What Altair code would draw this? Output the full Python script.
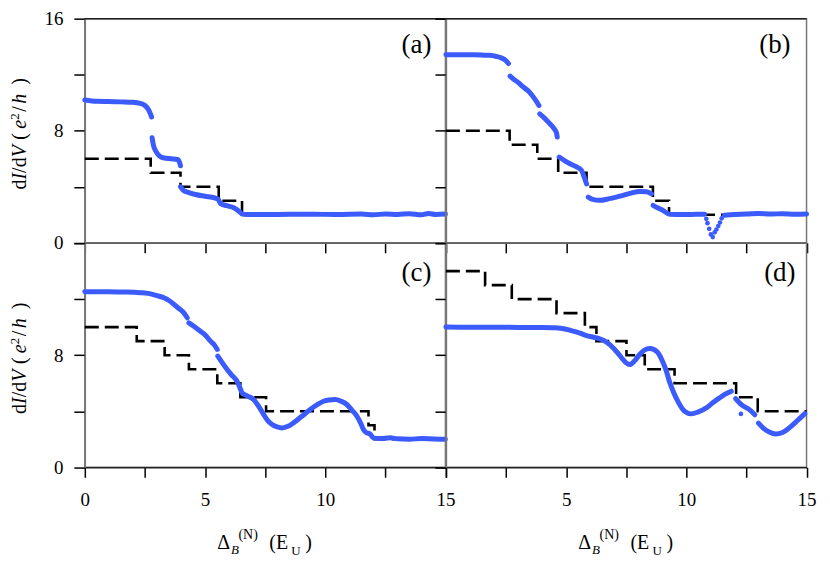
import altair as alt
import pandas as pd

SERIF = "Liberation Serif"
BLUE = "#3b5bfd"

# ---------------- panel (a) ----------------
A_X = [0, 0.5, 1.0, 1.5, 2.0, 2.3, 2.5, 2.65, 2.78,
       2.8, 2.85, 2.95, 3.1, 3.3, 3.6, 3.85, 3.95, 3.98,
       3.98, 4.1, 4.3, 4.6, 5.0, 5.4, 5.55, 5.65, 5.9, 6.2, 6.45, 6.55, 6.7, 7.5, 8.5, 9.5,
       10.5, 11.5, 12.0, 12.5, 13.0, 13.5, 14.0, 14.3, 14.6, 15.0]
A_V = [10.2, 10.1, 10.08, 10.06, 10.03, 9.95, 9.8, 9.5, 8.98,
       7.5, 7.0, 6.55, 6.2, 6.05, 6.0, 5.95, 5.7, 5.5,
       4.0, 3.75, 3.6, 3.45, 3.32, 3.2, 3.1, 2.8, 2.65, 2.5, 2.2, 2.05, 2.02, 2.02, 2.03, 2.04,
       2.02, 2.05, 2.0, 2.06, 2.02, 2.08, 2.0, 2.1, 2.02, 2.05]
A_SEG = [1] * 9 + [2] * 9 + [3] * 26
A_STEP_X = [0, 2.74, 3.98, 5.57, 6.54, 15]
A_STEP_V = [6, 5, 4, 3, 2, 2]
A_DOT_X = []
A_DOT_V = []

# ---------------- panel (b) ----------------
B_X = [0, 0.5, 1.0, 1.5, 1.84, 2.1, 2.3, 2.5, 2.6,
       2.67, 2.8, 3.0, 3.22, 3.45, 3.64, 3.8, 3.87,
       3.9, 4.1, 4.32, 4.5, 4.6, 4.63,
       4.71, 4.9, 5.16, 5.4, 5.64, 5.75, 5.85,
       5.92, 6.1, 6.4, 6.8, 7.37, 7.7, 8.07, 8.35, 8.55,
       8.62, 8.8, 9.03, 9.31, 9.6, 10.0, 10.4, 10.76,
       11.58, 12.0, 12.5, 13.0, 13.5, 14.0, 14.5, 15.0]
B_V = [13.43, 13.43, 13.42, 13.4, 13.38, 13.3, 13.2, 13.0, 12.8,
       11.9, 11.7, 11.45, 11.12, 10.8, 10.4, 10.0, 9.8,
       9.2, 8.9, 8.5, 8.15, 7.85, 7.55,
       6.12, 5.9, 5.64, 5.45, 5.17, 4.7, 4.2,
       3.26, 3.1, 3.03, 3.15, 3.39, 3.55, 3.67, 3.65, 3.5,
       2.67, 2.5, 2.31, 2.03, 2.02, 2.02, 2.03, 2.03,
       1.96, 2.02, 2.05, 2.1, 2.05, 2.08, 2.03, 2.05]
B_SEG = [1] * 9 + [2] * 8 + [3] * 6 + [4] * 7 + [5] * 9 + [6] * 8 + [7] * 8
B_STEP_X = [0, 2.65, 3.8, 4.67, 5.85, 8.61, 9.28, 15]
B_STEP_V = [8, 7, 6, 5, 4, 3, 2, 2]
B_DOT_X = [10.83, 10.88, 10.95, 11.02, 11.1, 11.18, 11.25, 11.33, 11.4, 11.47]
B_DOT_V = [1.71, 1.4, 1.0, 0.6, 0.41, 0.75, 0.95, 1.2, 1.45, 1.75]

# ---------------- panel (c) ----------------
C_X = [0, 0.5, 1.0, 1.5, 2.05, 2.4, 2.74, 3.0, 3.29, 3.5, 3.71, 3.9, 4.12, 4.26,
       4.33, 4.55, 4.81, 5.0, 5.23, 5.4, 5.51,
       5.53, 5.7, 5.92, 6.1, 6.33, 6.45, 6.54, 6.75, 7.02, 7.25, 7.44, 7.6, 7.79, 8.0,
       8.2, 8.45, 8.68, 9.0, 9.38, 9.65, 9.93, 10.15, 10.41, 10.65, 10.9, 11.1, 11.32,
       11.5, 11.59, 11.73, 11.85, 12.0, 12.3, 12.7, 13.0, 13.5, 14.0, 14.5, 15.0]
C_V = [12.52, 12.52, 12.52, 12.51, 12.5, 12.45, 12.38, 12.25, 12.1, 11.9, 11.62, 11.35, 11.02, 10.67,
       10.31, 10.05, 9.71, 9.45, 9.0, 8.7, 8.41,
       7.93, 7.5, 6.98, 6.6, 6.14, 5.7, 5.31, 5.1, 4.83, 4.3, 3.76, 3.35, 3.05, 2.88,
       2.81, 2.92, 3.17, 3.6, 4.12, 4.45, 4.71, 4.8, 4.83, 4.72, 4.48, 4.1, 3.64,
       3.05, 2.69, 2.45, 2.4, 2.1, 2.05, 2.1, 2.03, 2.0, 2.05, 2.02, 2.0]
C_SEG = [1] * 14 + [2] * 7 + [3] * 39
C_STEP_X = [0, 2.16, 3.32, 4.33, 5.51, 6.47, 7.54, 11.8, 12.05, 15]
C_STEP_V = [10, 9, 8, 7, 6, 5, 4, 3, 2, 2]
C_DOT_X = []
C_DOT_V = []

# ---------------- panel (d) ----------------
D_X = [0, 1, 2, 3, 4, 4.54, 5.0, 5.3, 5.6, 5.85, 6.1, 6.4, 6.7, 6.96, 7.2, 7.37, 7.5, 7.64,
       7.85, 8.06, 8.25, 8.47, 8.65, 8.82, 9.0, 9.17, 9.3, 9.45, 9.65, 9.86, 10.0, 10.21,
       10.5, 10.83, 11.1, 11.38, 11.6, 11.87,
       12.05, 12.3, 12.6, 12.85,
       13.0, 13.2, 13.45, 13.72, 14.0, 14.28, 14.6, 14.93]
D_V = [10.02, 10.0, 10.0, 9.98, 9.97, 9.95, 9.85, 9.71, 9.55, 9.4, 9.3, 9.17, 8.9, 8.52, 8.05, 7.69, 7.45, 7.33,
       7.6, 8.05, 8.35, 8.48, 8.4, 8.17, 7.6, 6.86, 6.1, 5.43, 4.7, 4.12, 3.92, 3.81,
       3.95, 4.24, 4.6, 4.95, 5.2, 5.43,
       4.9, 4.45, 4.15, 3.75,
       3.15, 2.8, 2.52, 2.38, 2.48, 2.81, 3.3, 3.83]
D_SEG = [1] * 38 + [2] * 4 + [3] * 8
D_STEP_X = [0, 1.63, 2.74, 4.6, 5.78, 6.26, 7.51, 8.27, 9.51, 12.07, 12.97, 15]
D_STEP_V = [14, 13, 12, 11, 10, 9, 8, 7, 6, 5, 4, 4]
D_DOT_X = [12.27]
D_DOT_V = [3.81]

X_TICKS = [0, 2.5, 5, 7.5, 10, 12.5, 15]
Y_TICKS = [0, 4, 8, 12, 16]

W = 361.5
H = 224.7


def piece(text, x, y, size, italic=False, angle=0, align="left"):
    props = dict(text=text, font=SERIF, fontSize=size, align=align,
                 baseline="alphabetic", color="black")
    if italic:
        props["fontStyle"] = "italic"
    if angle:
        props["angle"] = angle
    return alt.Chart(alt.Data(values=[{}])).mark_text(**props).encode(
        x=alt.value(x), y=alt.value(y))


def y_title_pieces():
    bx = -59
    return [
        piece("d", bx, 171.3, 20, False, 270),
        piece("I", bx, 161.3, 20, True, 270),
        piece("/d", bx, 154.6, 20, False, 270),
        piece("V", bx, 139.0, 20, True, 270),
        piece("(", bx, 121.3, 20, False, 270),
        piece("e", bx, 110.3, 20, True, 270),
        piece("2", bx - 7, 101.3, 13, False, 270),
        piece("/", bx, 93.3, 20, False, 270),
        piece("h", bx, 85.3, 20, True, 270),
        piece(")", bx, 66.3, 20, False, 270),
    ]


def x_title_pieces():
    return [
        piece("\u0394", 132.7, 307, 20),
        piece("B", 146.5, 311.5, 13, True),
        piece("(N)", 154, 296.5, 14),
        piece("(E", 185, 307, 20),
        piece("U", 207, 313, 13),
        piece(")", 221, 307, 20),
    ]


def make_panel(bx, bv, bseg, sx, sv, dx, dv, label, lx, ly, xlab_expr, ylab_expr,
               xtitle, ytitle, top_edge):
    xaxis = alt.Axis(values=X_TICKS, title=None, grid=False,
                     labels=xlab_expr is not None,
                     labelExpr=xlab_expr if xlab_expr else "datum.label",
                     tickSize=10, tickColor="black", tickWidth=1.5,
                     domainColor="#222222", domainWidth=1.5,
                     labelFont=SERIF, labelFontSize=19, labelColor="black",
                     labelPadding=13, labelFlush=False, labelOverlap=False)
    yaxis = alt.Axis(values=Y_TICKS, title=None, grid=False,
                     labels=ylab_expr is not None,
                     labelExpr=ylab_expr if ylab_expr else "datum.label",
                     tickSize=11, tickColor="black", tickWidth=1.5,
                     domainColor="#777777", domainWidth=1.5,
                     labelFont=SERIF, labelFontSize=19, labelColor="black",
                     labelPadding=11, labelFlush=False, labelOverlap=False)
    X = alt.X("x:Q", scale=alt.Scale(domain=[0, 15], nice=False, zero=False), axis=xaxis)
    Y = alt.Y("v:Q", scale=alt.Scale(domain=[0, 16], nice=False), axis=yaxis)

    step_df = pd.DataFrame({"x": sx, "v": sv})
    blue_df = pd.DataFrame({"x": bx, "v": bv, "seg": bseg})

    layers = []
    layers.append(alt.Chart(step_df).mark_line(
        interpolate="step-after", color="black", strokeWidth=2.6,
        strokeDash=[14, 6]).encode(x=X, y=Y))
    layers.append(alt.Chart(blue_df).mark_line(
        interpolate="monotone", color=BLUE, strokeWidth=5, strokeCap="round",
        strokeJoin="round").encode(x=X, y=Y, detail="seg:N"))
    if dx:
        dot_df = pd.DataFrame({"x": dx, "v": dv})
        layers.append(alt.Chart(dot_df).mark_circle(
            color=BLUE, opacity=1, size=22).encode(x=X, y=Y))
    if top_edge:
        layers.append(alt.Chart(alt.Data(values=[{}])).mark_rule(
            color="#222222", strokeWidth=1.5).encode(
            x=alt.value(0), x2=alt.value(W), y=alt.value(0)))
    layers.append(piece(label, lx, ly, 27, align="right"))
    if ytitle:
        layers += y_title_pieces()
    if xtitle:
        layers += x_title_pieces()
    return alt.layer(*layers).properties(width=W, height=H)


XL_LEFT = "datum.value % 5 == 0 ? datum.label : ''"
XL_RIGHT = "datum.value % 5 == 0 && datum.value > 0 ? datum.label : ''"
YL_TOP = "datum.value % 8 == 0 ? datum.label : ''"
YL_BOT = "datum.value % 8 == 0 && datum.value < 16 ? datum.label : ''"

pa = make_panel(A_X, A_V, A_SEG, A_STEP_X, A_STEP_V, A_DOT_X, A_DOT_V, "(a)", 347.5, 34,
                None, YL_TOP, False, True, True)
pb = make_panel(B_X, B_V, B_SEG, B_STEP_X, B_STEP_V, B_DOT_X, B_DOT_V, "(b)", 345.5, 34,
                None, None, False, False, True)
pc = make_panel(C_X, C_V, C_SEG, C_STEP_X, C_STEP_V, C_DOT_X, C_DOT_V, "(c)", 347.5, 38,
                XL_LEFT, YL_BOT, True, True, False)
pd_ = make_panel(D_X, D_V, D_SEG, D_STEP_X, D_STEP_V, D_DOT_X, D_DOT_V, "(d)", 350.5, 38,
                 XL_RIGHT, None, True, False, False)

chart = alt.concat(pa, pb, pc, pd_, columns=2, spacing=0, bounds="flush").properties(
    padding={"left": 0, "top": 0, "right": 5, "bottom": 5},
    background="white",
).configure_view(stroke="#777777", strokeWidth=1.5)

chart.save("out.html", embed_options={"renderer": "svg", "actions": False})
